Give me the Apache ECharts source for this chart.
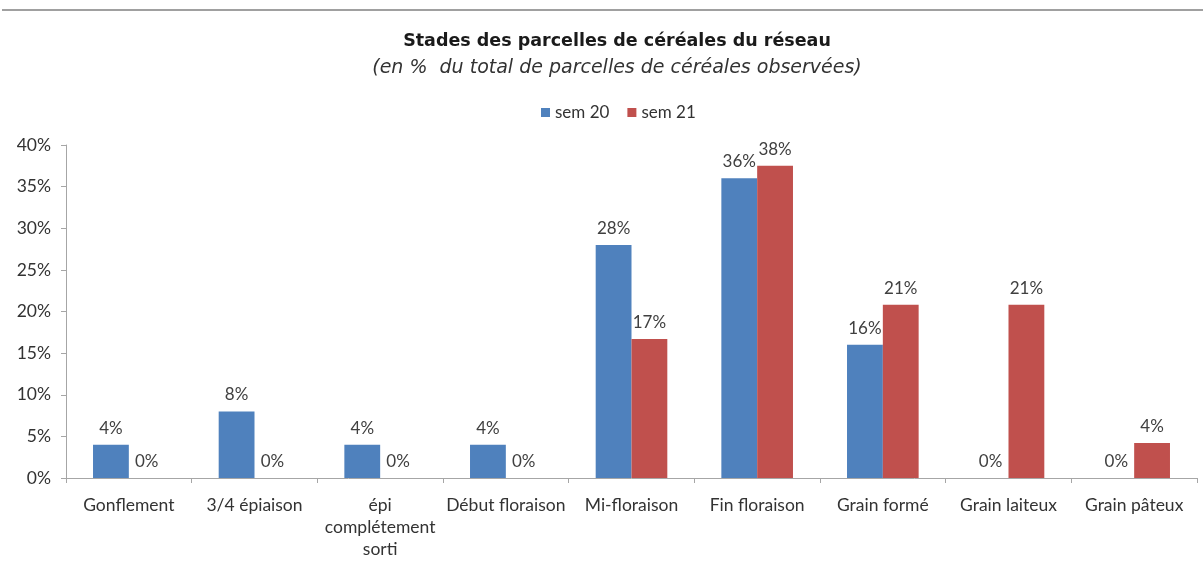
<!DOCTYPE html>
<html>
<head>
<meta charset="utf-8">
<script src="https://cdn.jsdelivr.net/npm/echarts@6/dist/echarts.min.js"></script>
<style>
html,body{margin:0;padding:0;background:#fff;}
#main{width:1203px;height:570px;}
</style>
</head>
<body>
<div id="main"></div>
<script>
const categories = ['Gonflement', '3/4 épiaison', 'épi complétement sorti', 'Début floraison', 'Mi-floraison', 'Fin floraison', 'Grain formé', 'Grain laiteux', 'Grain pâteux'];
const seriesNames = ['sem 20', 'sem 21'];
const sem20 = [4, 8, 4, 4, 28, 36, 16, 0, 0];
const sem21 = [0, 0, 0, 0, 16.7, 37.5, 20.8, 20.8, 4.2];
const yTicks = { min: 0, max: 40, interval: 5 };

const chart = echarts.init(document.getElementById('main'));
const font = 'Lato, "Noto Sans", sans-serif';
const labelCfg = {
  show: true, position: 'top', distance: 8,
  color: '#404040', fontFamily: font, fontSize: 17,
  formatter: p => Math.round(p.value) + '%'
};
chart.setOption({
  animation: false,
  backgroundColor: '#fff',
  graphic: [{
    type: 'line', shape: { x1: 2, y1: 10, x2: 1203, y2: 10 },
    style: { stroke: '#a0a0a0', lineWidth: 2 }
  }],
  title: {
    text: 'Stades des parcelles de céréales du réseau',
    subtext: '(en %  du total de parcelles de céréales observées)',
    left: 612, textAlign: 'center', top: 27, itemGap: 9,
    textStyle: { fontFamily: '"DejaVu Sans", sans-serif', fontWeight: 'bold', fontSize: 17.5, color: '#1a1a1a' },
    subtextStyle: { fontFamily: '"DejaVu Sans", sans-serif', fontStyle: 'italic', fontSize: 19, color: '#333' }
  },
  legend: {
    data: seriesNames, top: 99, left: 536,
    itemWidth: 9, itemHeight: 9, itemGap: 18, icon: 'rect',
    textStyle: { fontFamily: font, fontSize: 17, color: '#333' }
  },
  grid: { left: 66, right: 6, top: 145, bottom: 92 },
  xAxis: {
    type: 'category', data: categories,
    axisLine: { lineStyle: { color: '#a6a6a6' } },
    axisTick: { show: true, alignWithLabel: false, length: 5, lineStyle: { color: '#a6a6a6' } },
    axisLabel: {
      interval: 0, margin: 16, color: '#333', fontFamily: font, fontSize: 17.5, lineHeight: 22,
      formatter: v => v.replace(' complétement ', '\ncomplétement\n')
    }
  },
  yAxis: {
    type: 'value', min: yTicks.min, max: yTicks.max, interval: yTicks.interval,
    splitLine: { show: false },
    axisLine: { show: true, lineStyle: { color: '#a6a6a6' } },
    axisTick: { show: true, length: 5, lineStyle: { color: '#a6a6a6' } },
    axisLabel: { formatter: '{value}%', margin: 15, color: '#333', fontFamily: font, fontSize: 17.5 }
  },
  series: [
    { name: seriesNames[0], type: 'bar', data: sem20, barGap: '0%', barCategoryGap: '43%',
      itemStyle: { color: '#4f81bd' }, label: labelCfg },
    { name: seriesNames[1], type: 'bar', data: sem21, barGap: '0%', barCategoryGap: '43%',
      itemStyle: { color: '#c0504d' }, label: labelCfg }
  ]
});
</script>
</body>
</html>
